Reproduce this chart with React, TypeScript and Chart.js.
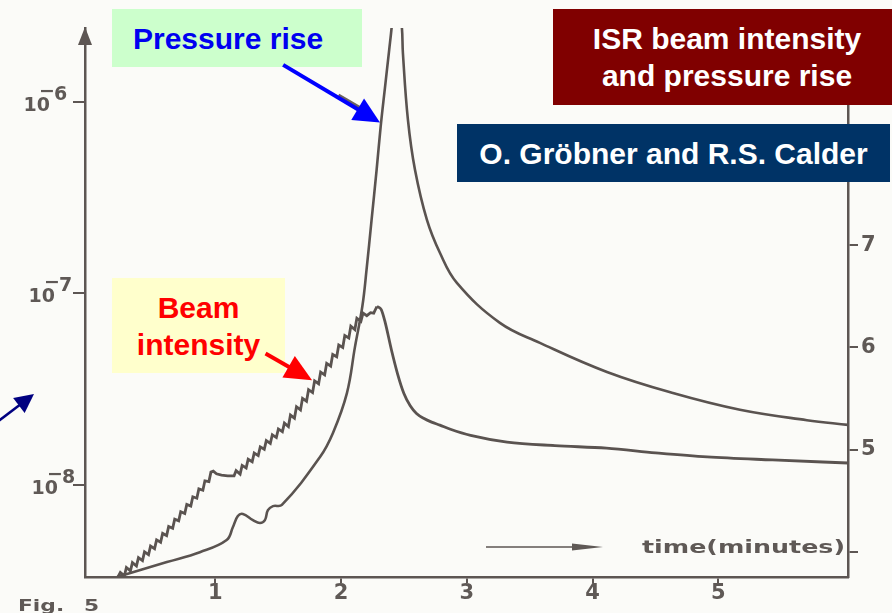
import React, { useEffect, useRef, useState } from 'react';
import { Chart, registerables } from 'chart.js';

Chart.register(...registerables);

// ---- data ----
// time axis (minutes)
const timeTicks = [1, 2, 3, 4, 5];
const timeRange = [-0.035, 6.03];

// pressure (left axis, logarithmic, torr)
const pressureTicks = [1e-8, 1e-7, 1e-6];
const pressureRange = [3.31e-9, 2.43e-6];
const pressureTime = [
  0.22, 0.616, 0.878, 1.091, 1.141, 1.18, 1.22, 1.3, 1.356, 1.395, 1.419, 1.459, 1.53,
  1.833, 1.936, 2.047, 2.111, 2.17, 2.203, 2.243, 2.283, 2.315, 2.349, 2.383, 2.402,
  2.44, 2.484, 2.492, 2.532, 2.588, 2.683, 2.786, 2.921, 3.263, 3.581, 4.114, 4.638,
  5.171, 5.703, 6.03,
];
const pressureValue = [
  3.31e-9, 3.96e-9, 4.46e-9, 5.16e-9, 6.04e-9, 6.89e-9, 7.06e-9, 6.56e-9, 6.34e-9, 6.56e-9,
  7.39e-9, 7.76e-9, 7.87e-9, 1.4e-8, 1.87e-8, 3.02e-8, 5.26e-8, 8.6e-8, 1.33e-7,
  2.42e-7, 4.42e-7, 7.4e-7, 1.18e-6, 1.87e-6, 2.43e-6, 4.5e-6, 2.43e-6, 1.8e-6, 8.05e-7,
  4.42e-7, 2.42e-7, 1.63e-7, 1.135e-7, 7.02e-8, 5.52e-8, 3.89e-8, 3.02e-8, 2.47e-8,
  2.18e-8, 2.06e-8,
];

// beam intensity (right axis, linear)
const beamTicks = [4, 5, 6, 7];
const beamRange = [3.756, 9.122];
const beamTime = [
  0.227, 0.246, 0.278, 0.294, 0.326, 0.342, 0.374, 0.39, 0.422, 0.438,
  0.47, 0.486, 0.518, 0.534, 0.566, 0.582, 0.614, 0.63, 0.662, 0.678,
  0.71, 0.726, 0.758, 0.774, 0.806, 0.822, 0.854, 0.87, 0.902, 0.918,
  0.95, 0.966, 0.985, 1.01, 1.05, 1.1, 1.15, 1.166, 1.198, 1.214,
  1.246, 1.262, 1.294, 1.31, 1.342, 1.358, 1.39, 1.406, 1.438, 1.454,
  1.486, 1.502, 1.534, 1.55, 1.582, 1.598, 1.63, 1.646, 1.678, 1.694,
  1.726, 1.742, 1.774, 1.79, 1.822, 1.838, 1.87, 1.886, 1.918, 1.934,
  1.966, 1.982, 2.014, 2.03, 2.062, 2.078, 2.11, 2.126, 2.158, 2.175,
  2.205, 2.235, 2.26, 2.285, 2.32, 2.35, 2.4, 2.45, 2.5, 2.55,
  2.6, 2.66, 2.72, 2.786, 2.87, 3.03, 3.32, 3.7, 4.11, 4.5,
  4.91, 5.43, 6.03,
];
const beamValue = [
  3.756, 3.8, 3.768, 3.849, 3.816, 3.897, 3.864, 3.945, 3.916, 4.001,
  3.974, 4.058, 4.033, 4.119, 4.096, 4.182, 4.161, 4.25, 4.233, 4.322,
  4.305, 4.394, 4.377, 4.466, 4.45, 4.54, 4.526, 4.617, 4.604, 4.696,
  4.688, 4.781, 4.79, 4.765, 4.752, 4.745, 4.745, 4.796, 4.762, 4.847,
  4.822, 4.907, 4.883, 4.968, 4.943, 5.028, 5.004, 5.089, 5.062, 5.146,
  5.119, 5.203, 5.176, 5.26, 5.227, 5.339, 5.308, 5.42, 5.389, 5.502,
  5.474, 5.587, 5.559, 5.673, 5.645, 5.759, 5.731, 5.845, 5.818, 5.931,
  5.908, 6.023, 6.0, 6.116, 6.093, 6.207, 6.174, 6.285, 6.255, 6.335,
  6.31, 6.34, 6.335, 6.4, 6.37, 6.25, 5.98, 5.74, 5.55, 5.43,
  5.355, 5.305, 5.27, 5.24, 5.2, 5.14, 5.075, 5.04, 5.015, 4.97,
  4.93, 4.9, 4.87,
];

// annotation arrow anchors, in data units
const pressureArrow = { from: [1.54, 1.56e-6], to: [2.31, 7.8e-7] };
const beamArrow = { from: [1.4, 5.94], to: [1.77, 5.68] };

// ---- styles ----
const BG = '#fbfbf8';
const LINE = '#5a5350';
const AXIS = '#5d5653';
const TEXT = '#5f5956';
const TICK_FONT = { family: '"DejaVu Sans", sans-serif', weight: 'bold' as const, size: 21 };

type Seg = [number, number, number, number];

function Arrow({ seg, color, width, head, half }: { seg: Seg; color: string; width: number; head: number; half: number }) {
  const [x1, y1, x2, y2] = seg;
  const dx = x2 - x1;
  const dy = y2 - y1;
  const len = Math.hypot(dx, dy) || 1;
  const ux = dx / len;
  const uy = dy / len;
  const bx = x2 - ux * head;
  const by = y2 - uy * head;
  const px = -uy * half;
  const py = ux * half;
  return (
    <g>
      <line x1={x1} y1={y1} x2={bx + ux * 3} y2={by + uy * 3} stroke={color} strokeWidth={width} />
      <polygon points={`${x2},${y2} ${bx + px},${by + py} ${bx - px},${by - py}`} fill={color} />
    </g>
  );
}

const boxBase: React.CSSProperties = {
  position: 'absolute',
  boxSizing: 'border-box',
  display: 'flex',
  flexDirection: 'column',
  alignItems: 'center',
  justifyContent: 'center',
  fontFamily: '"Liberation Sans", Arial, sans-serif',
  fontWeight: 700,
  fontSize: 30,
  lineHeight: '37px',
  whiteSpace: 'nowrap',
};

export default function App() {
  const canvasRef = useRef<HTMLCanvasElement | null>(null);
  const [arrows, setArrows] = useState<{ blue: Seg; red: Seg } | null>(null);

  useEffect(() => {
    const canvas = canvasRef.current;
    if (!canvas) return;

    // split the beam record at its maximum: stepped rise, smooth decay
    let peak = 0;
    beamValue.forEach((v, i) => { if (v > beamValue[peak]) peak = i; });
    const beamPts = beamTime.map((t, i) => ({ x: t, y: beamValue[i] }));

    const decor = {
      id: 'decor',
      afterDraw(chart: any) {
        const ctx = chart.ctx as CanvasRenderingContext2D;
        const area = chart.chartArea;
        const ys = chart.scales.y;
        ctx.save();
        // arrow head on top of the left axis
        ctx.fillStyle = AXIS;
        ctx.beginPath();
        ctx.moveTo(area.left, area.top - 1);
        ctx.lineTo(area.left - 7, area.top + 17);
        ctx.lineTo(area.left + 7, area.top + 17);
        ctx.closePath();
        ctx.fill();

        // decade labels 10^-n
        ctx.fillStyle = TEXT;
        const rights = [58, 55, 50];
        pressureTicks.forEach((v, i) => {
          const py = ys.getPixelForValue(v);
          const exp = Math.round(Math.log10(v));
          const r = rights[i];
          ctx.textBaseline = 'alphabetic';
          ctx.font = 'bold 19px "DejaVu Sans"';
          ctx.textAlign = 'right';
          ctx.fillText('10', r, py + 9);
          ctx.font = 'bold 19px "DejaVu Sans"';
          ctx.textAlign = 'left';
          ctx.fillText('\u2212', r - 11, py - 5);
          ctx.fillText(String(Math.abs(exp)), r + 4, py - 2);
        });

        // time(minutes) with arrow
        ctx.font = 'bold 18px "DejaVu Sans"';
        ctx.textAlign = 'left';
        const label = 'time(minutes)';
        const w = ctx.measureText(label).width;
        ctx.save();
        ctx.translate(area.right - 206, area.bottom - 24);
        ctx.scale(203 / w, 1);
        ctx.fillText(label, 0, 0);
        ctx.restore();

        const ay = area.bottom - 30;
        ctx.strokeStyle = AXIS;
        ctx.lineWidth = 1.6;
        ctx.beginPath();
        ctx.moveTo(486, ay);
        ctx.lineTo(580, ay);
        ctx.stroke();
        ctx.beginPath();
        ctx.moveTo(603, ay);
        ctx.lineTo(572, ay - 3.5);
        ctx.lineTo(572, ay + 3.5);
        ctx.closePath();
        ctx.fill();

        // figure caption
        ctx.font = 'bold 15px "DejaVu Sans"';
        ctx.save();
        ctx.translate(18, 611);
        ctx.scale(1.45, 1);
        ctx.fillText('Fig.', 0, 0);
        ctx.restore();
        ctx.save();
        ctx.translate(84, 611);
        ctx.scale(1.45, 1);
        ctx.fillText('5', 0, 0);
        ctx.restore();
        ctx.restore();
      },
    };

    const chart = new Chart(canvas, {
      type: 'line',
      data: {
        datasets: [
          {
            label: 'Pressure',
            data: pressureTime.map((t, i) => ({ x: t, y: pressureValue[i] })),
            yAxisID: 'y',
            borderColor: LINE,
            borderWidth: 2.6,
            pointRadius: 0,
            fill: false,
            tension: 0.4,
          },
          {
            label: 'Beam intensity (stacking)',
            data: beamPts.slice(0, peak + 1),
            yAxisID: 'y2',
            borderColor: LINE,
            borderWidth: 2.8,
            pointRadius: 0,
            fill: false,
            tension: 0,
          },
          {
            label: 'Beam intensity (loss)',
            data: beamPts.slice(peak),
            yAxisID: 'y2',
            borderColor: LINE,
            borderWidth: 2.8,
            pointRadius: 0,
            fill: false,
            cubicInterpolationMode: 'monotone',
          },
        ],
      },
      options: {
        responsive: false,
        devicePixelRatio: 1,
        animation: false,
        events: [],
        layout: { autoPadding: false, padding: { top: 28, left: 0, right: 0, bottom: 0 } },
        plugins: { legend: { display: false }, tooltip: { enabled: false } },
        scales: {
          x: {
            type: 'linear',
            position: 'bottom',
            min: timeRange[0],
            max: timeRange[1],
            afterFit: (s: any) => { s.height = 36; },
            afterBuildTicks: (s: any) => { s.ticks = timeTicks.map((value) => ({ value })); },
            grid: { display: true, drawOnChartArea: false, drawTicks: true, tickLength: 6, color: AXIS, lineWidth: 2 },
            border: { display: true, color: AXIS, width: 2.5 },
            ticks: { color: TEXT, font: TICK_FONT, padding: -2, maxRotation: 0, autoSkip: false, callback: (v: any) => String(v) },
          },
          y: {
            type: 'logarithmic',
            position: 'left',
            min: pressureRange[0],
            max: pressureRange[1],
            afterFit: (s: any) => { s.width = 85; },
            afterBuildTicks: (s: any) => { s.ticks = pressureTicks.map((value) => ({ value })); },
            grid: { display: true, drawOnChartArea: false, drawTicks: true, tickLength: 12, color: AXIS, lineWidth: 2 },
            border: { display: true, color: AXIS, width: 2.5 },
            ticks: { display: false },
          },
          y2: {
            type: 'linear',
            position: 'right',
            min: beamRange[0],
            max: beamRange[1],
            afterFit: (s: any) => { s.width = 44; },
            afterBuildTicks: (s: any) => { s.ticks = beamTicks.map((value) => ({ value })); },
            grid: { display: true, drawOnChartArea: false, drawTicks: true, tickLength: 10, color: AXIS, lineWidth: 2 },
            border: { display: true, color: AXIS, width: 2.5 },
            ticks: { color: TEXT, font: TICK_FONT, padding: 3, autoSkip: false, callback: (v: any) => (v === 4 ? '' : String(v)) },
          },
        },
      },
      plugins: [decor],
    } as any);

    const xs: any = chart.scales.x;
    const ys: any = chart.scales.y;
    const y2: any = chart.scales.y2;
    setArrows({
      blue: [
        xs.getPixelForValue(pressureArrow.from[0]), ys.getPixelForValue(pressureArrow.from[1]),
        xs.getPixelForValue(pressureArrow.to[0]), ys.getPixelForValue(pressureArrow.to[1]),
      ],
      red: [
        xs.getPixelForValue(beamArrow.from[0]), y2.getPixelForValue(beamArrow.from[1]),
        xs.getPixelForValue(beamArrow.to[0]), y2.getPixelForValue(beamArrow.to[1]),
      ],
    });

    return () => chart.destroy();
  }, []);

  return (
    <div style={{ position: 'absolute', left: 0, top: 0, width: 892, height: 613, overflow: 'hidden', background: BG }}>
      <canvas ref={canvasRef} width={892} height={613} style={{ position: 'absolute', left: 0, top: 0, width: 892, height: 613 }} />
      <div style={{ ...boxBase, left: 112, top: 9, width: 250, height: 58, background: '#ccffcc', color: '#0000f0', alignItems: 'flex-start', paddingLeft: 21 }}>
        Pressure rise
      </div>
      <div style={{ ...boxBase, left: 553, top: 9, width: 348, height: 96, background: '#800000', color: '#ffffff' }}>
        <span>ISR beam intensity</span>
        <span>and pressure rise</span>
      </div>
      <div style={{ ...boxBase, left: 457, top: 124, width: 433, height: 58, background: '#003366', color: '#ffffff' }}>
        O. Gröbner and R.S. Calder
      </div>
      <div style={{ ...boxBase, left: 112, top: 278, width: 173, height: 95, background: '#ffffcc', color: '#ff0000' }}>
        <span>Beam</span>
        <span>intensity</span>
      </div>
      <svg width={892} height={613} style={{ position: 'absolute', left: 0, top: 0, pointerEvents: 'none' }}>
        <line x1={338} y1={96} x2={362} y2={110} stroke="#6b625f" strokeWidth={5} />
        {arrows && <Arrow seg={arrows.blue} color="#0000ff" width={4} head={26} half={12.5} />}
        {arrows && <Arrow seg={arrows.red} color="#ff0000" width={4} head={27} half={12.5} />}
        <Arrow seg={[-4, 423, 34, 394]} color="#000080" width={2.5} head={19} half={9.5} />
      </svg>
    </div>
  );
}
